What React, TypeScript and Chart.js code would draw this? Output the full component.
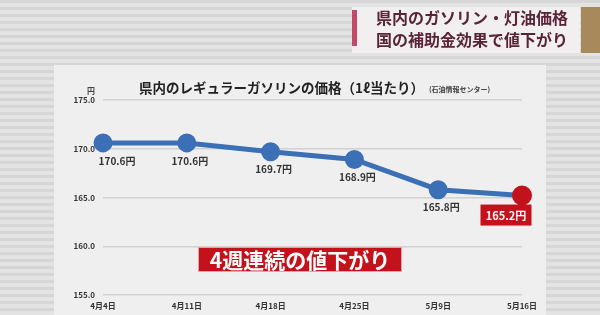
import React, { useEffect, useRef } from "react";
import { Chart, registerables } from "chart.js";

Chart.register(...registerables);

const categories = ["4月4日", "4月11日", "4月18日", "4月25日", "5月9日", "5月16日"];
const prices = [170.6, 170.6, 169.7, 168.9, 165.8, 165.2];
const yTicks = [155, 160, 165, 170, 175];
const headerLines = ["県内のガソリン・灯油価格", "国の補助金効果で値下がり"];
const chartTitle = "県内のレギュラーガソリンの価格（1ℓ当たり）";
const sourceNote = "(石油情報センター)";
const bannerText = "4週連続の値下がり";
const unitLabel = "円";

const FONT = '"Noto Sans CJK JP", "Noto Sans", sans-serif';
const BLUE = "#3b70b6";
const RED = "#c4121c";

const decorPlugin = {
  id: "decor",
  beforeDraw(chart: any) {
    const ctx = chart.ctx as CanvasRenderingContext2D;
    const W = chart.width;
    const H = chart.height;
    ctx.save();
    ctx.fillStyle = "#e3e3e3";
    ctx.fillRect(0, 0, W, H);
    ctx.fillStyle = "#d6d6d6";
    for (let y = 0; y < H; y += 7) ctx.fillRect(0, y, W, 3);
    // header box
    ctx.fillStyle = "#f1efef";
    ctx.fillRect(352, 7, 228, 46);
    ctx.fillStyle = "#c24a68";
    ctx.fillRect(352, 10, 5, 36);
    ctx.fillStyle = "#a8895c";
    ctx.fillRect(581, 7, 19, 46);
    ctx.fillStyle = "#5a2438";
    ctx.font = `bold 16px ${FONT}`;
    ctx.textAlign = "center";
    ctx.textBaseline = "middle";
    ctx.fillText(headerLines[0], 472, 18);
    ctx.fillText(headerLines[1], 472, 40);
    // panel
    ctx.fillStyle = "#efefef";
    ctx.fillRect(54, 65, 492, 250);
    // title
    ctx.fillStyle = "#222";
    ctx.textAlign = "left";
    ctx.font = `bold 13.5px ${FONT}`;
    ctx.fillText(chartTitle, 139, 88);
    const tw = ctx.measureText(chartTitle).width;
    ctx.font = `bold 7px ${FONT}`;
    ctx.fillStyle = "#444";
    ctx.fillText(sourceNote, 139 + tw + 5, 89);
    ctx.font = `bold 8px ${FONT}`;
    ctx.textAlign = "right";
    ctx.fillText(unitLabel, 95, 91);
    ctx.restore();
  },
  afterDraw(chart: any) {
    const ctx = chart.ctx as CanvasRenderingContext2D;
    const meta = chart.getDatasetMeta(0);
    ctx.save();
    ctx.textAlign = "center";
    ctx.textBaseline = "middle";
    const n = prices.length;
    meta.data.forEach((pt: any, i: number) => {
      const txt = prices[i].toFixed(1) + "円";
      if (i === n - 1) {
        ctx.font = `bold 11px ${FONT}`;
        const w = 51;
        const cx = pt.x - 16;
        ctx.fillStyle = RED;
        ctx.fillRect(cx - w / 2, pt.y + 9, w, 21);
        ctx.fillStyle = "#fff";
        ctx.fillText(txt, cx, pt.y + 20);
      } else {
        ctx.font = `bold 10px ${FONT}`;
        ctx.fillStyle = "#333";
        const dx = i === 0 ? 14 : 3;
        ctx.fillText(txt, pt.x + dx, pt.y + 18);
      }
    });
    // banner
    ctx.fillStyle = RED;
    ctx.fillRect(198, 247, 204, 25);
    ctx.strokeStyle = "rgba(255,255,255,0.6)";
    ctx.lineWidth = 1;
    ctx.strokeRect(198.5, 247.5, 203, 24);
    ctx.fillStyle = "#fff";
    ctx.font = `bold 21px ${FONT}`;
    ctx.fillText(bannerText, 300, 260);
    ctx.restore();
  },
};

export default function App() {
  const ref = useRef<HTMLCanvasElement>(null);
  useEffect(() => {
    document.body.style.margin = "0";
    const n = prices.length;
    const chart = new Chart(ref.current!, {
      type: "line",
      data: {
        labels: categories,
        datasets: [
          {
            data: prices,
            borderColor: BLUE,
            borderWidth: 5,
            backgroundColor: prices.map((_, i) => (i === n - 1 ? RED : BLUE)),
            pointBackgroundColor: prices.map((_, i) => (i === n - 1 ? RED : BLUE)),
            pointBorderColor: prices.map((_, i) => (i === n - 1 ? RED : BLUE)),
            pointRadius: prices.map((_, i) => (i === n - 1 ? 7.5 : 7)),
            tension: 0,
          },
        ],
      },
      options: {
        animation: false,
        responsive: true,
        maintainAspectRatio: false,
        layout: { padding: { left: 54, right: 78, top: 100, bottom: 0 } },
        plugins: { legend: { display: false }, tooltip: { enabled: false } },
        scales: {
          x: {
            offset: false,
            grid: { display: false, drawTicks: false },
            border: { display: false },
            ticks: { color: "#333", font: { family: FONT, size: 8, weight: "bold" }, padding: 6, maxRotation: 0, autoSkip: false },
            afterFit: (s: any) => {
              s.height = 20;
            },
          },
          y: {
            min: 155,
            max: 175,
            afterBuildTicks: (s: any) => {
              s.ticks = yTicks.map((v) => ({ value: v }));
            },
            grid: { color: "#d2d2d2", lineWidth: 1.5, drawTicks: false },
            border: { display: false },
            ticks: {
              color: "#333",
              font: { family: FONT, size: 8, weight: "bold" },
              padding: 8,
              callback: (v: any) => Number(v).toFixed(1),
            },
            afterFit: (s: any) => {
              s.width = 49;
            },
          },
        },
      },
      plugins: [decorPlugin],
    });
    return () => chart.destroy();
  }, []);
  return (
    <div style={{ position: "fixed", left: 0, top: 0, width: 600, height: 315 }}>
      <canvas ref={ref} />
    </div>
  );
}
